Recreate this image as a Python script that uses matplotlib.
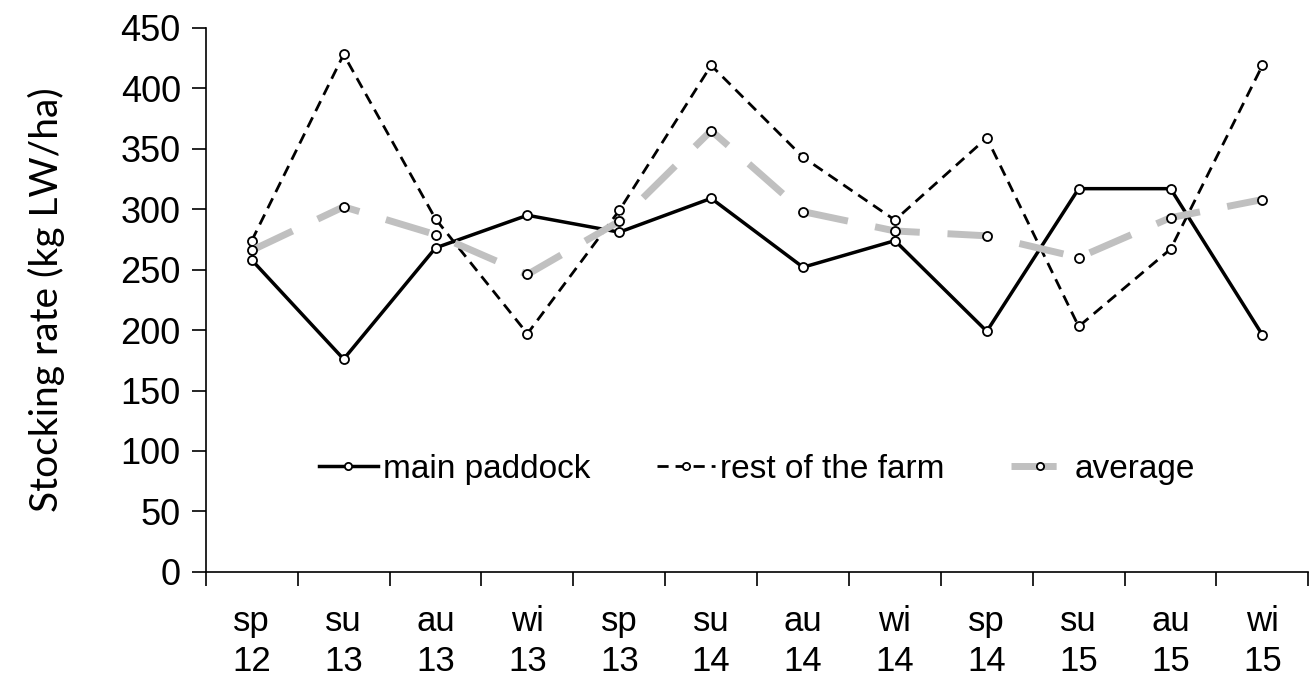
import numpy as np
import matplotlib.pyplot as plt

seasons = ['sp\n12', 'su\n13', 'au\n13', 'wi\n13', 'sp\n13', 'su\n14',
           'au\n14', 'wi\n14', 'sp\n14', 'su\n15', 'au\n15', 'wi\n15']
main_paddock = [258, 176, 268, 295, 281, 309, 252, 274, 199, 317, 317, 196]
rest_of_farm = [274, 428, 292, 197, 299, 419, 343, 291, 359, 203, 267, 419]
average = [266, 302, 279, 246, 290, 365, 298, 282, 278, 260, 293, 308]

plt.rcParams['font.family'] = ['Liberation Sans', 'DejaVu Sans']

fig = plt.figure(figsize=(13.11, 6.8), dpi=100)
ax = fig.add_axes([0.157, 0.159, 0.841, 0.8])

x = np.arange(len(seasons))
mk = dict(marker='o', markersize=6.5, markerfacecolor='white',
          markeredgecolor='black', markeredgewidth=1.3)

ax.plot(x, main_paddock, color='black', lw=2.5, label='main paddock', **mk)
ax.plot(x, rest_of_farm, color='black', lw=2, linestyle=(0, (4, 2.5)),
        label='rest of the farm', **mk)
ax.plot(x, average, color='#c0c0c0', lw=5, linestyle=(0, (6.5, 4)),
        label='average', **mk)

ax.set_ylim(0, 450)
ax.set_xlim(-0.5, len(seasons) - 0.5)
ax.set_yticks(range(0, 451, 50))
ax.set_xticks(x)
ax.set_xticklabels(seasons, linespacing=1.25)
ax.set_xticks(np.arange(-0.5, len(seasons), 1), minor=True)
ax.tick_params(axis='x', which='major', length=0, pad=24, labelsize=25)
ax.tick_params(axis='x', which='minor', length=10, width=1.2, direction='out')
ax.tick_params(axis='y', length=10, width=1.2, labelsize=26, pad=8)

for s in ['top', 'right']:
    ax.spines[s].set_visible(False)
for s in ['left', 'bottom']:
    ax.spines[s].set_linewidth(1.2)

ax.set_ylabel('Stocking rate (kg LW/ha)', fontsize=28, family='Lato',
              labelpad=40)

ax.legend(loc='center', bbox_to_anchor=(0.5, 0.188), ncol=3, frameon=False,
          fontsize=24, handlelength=1.75, handletextpad=0.15,
          columnspacing=2.0, markerscale=0.8)

fig.savefig('out.png', dpi=100)
